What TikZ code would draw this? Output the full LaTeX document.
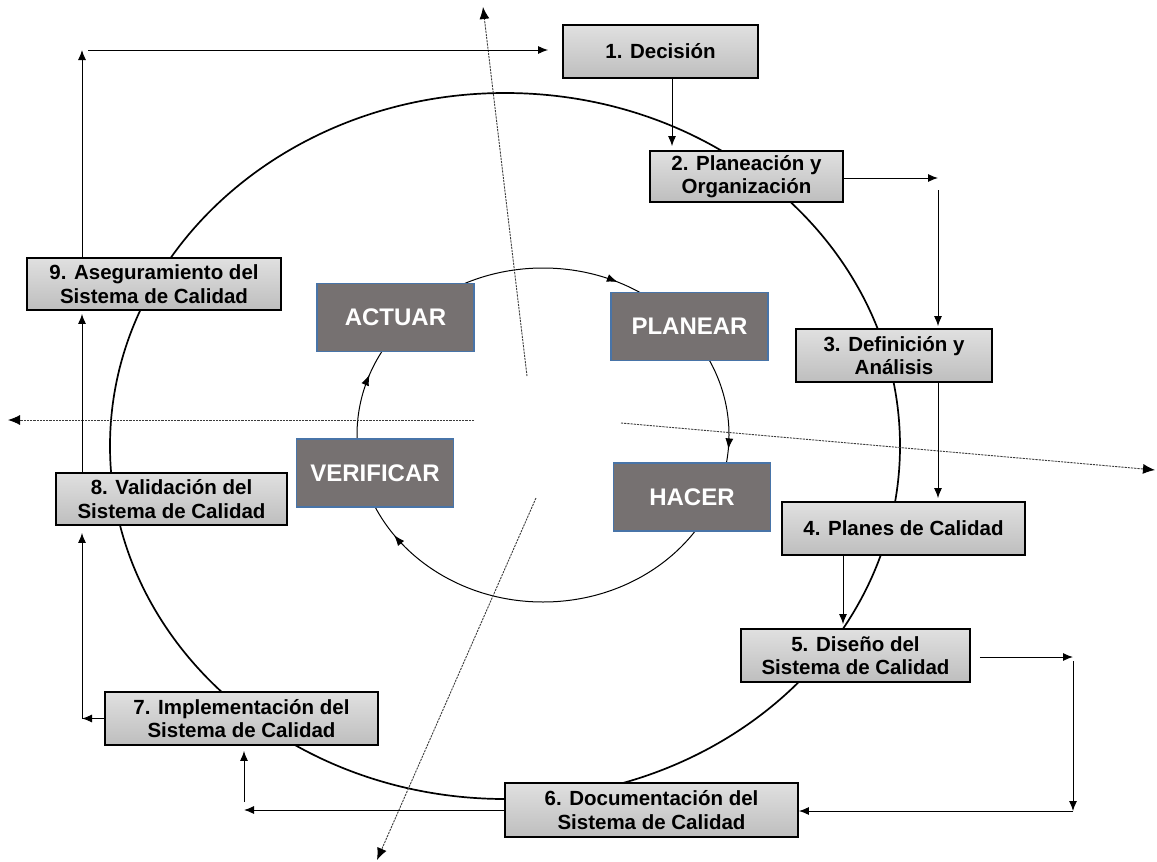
\documentclass[tikz,border=0pt]{standalone}
\usepackage{fontspec}
\setmainfont{Liberation Sans}
\usetikzlibrary{arrows.meta,decorations.markings}

\definecolor{boxtop}{RGB}{224,224,224}
\definecolor{boxbot}{RGB}{190,190,190}
\definecolor{pdcafill}{RGB}{118,113,113}
\definecolor{pdcaline}{RGB}{72,116,168}
\definecolor{axiscol}{RGB}{60,60,60}

\tikzset{
  stage/.style={draw=black, line width=1.8pt, top color=boxtop, bottom color=boxbot,
    inner sep=0pt, align=center, font=\bfseries\fontsize{20.5}{23.5}\selectfont},
  pdca/.style={draw=pdcaline, line width=1.6pt, fill=pdcafill, text=white,
    inner sep=0pt, minimum width=157pt, minimum height=68pt,
    font=\bfseries\fontsize{24}{27}\selectfont},
  conn/.style={draw=black, line width=1pt, -{Latex[length=10pt,width=8pt]}},
  axis/.style={draw=axiscol, line width=0.9pt, dash pattern=on 2.2pt off 1pt,
    -{Latex[length=12pt,width=10pt,black]}},
  ringtip/.style={-{Latex[length=11pt,width=8pt]}}
}

\begin{document}
\begin{tikzpicture}[x=1pt,y=-1pt]
\useasboundingbox (0,0) rectangle (1157,862);

% quality-system cycle and PDCA ring
\draw[line width=1.7pt] (505,446) ellipse [x radius=395, y radius=353];
\draw[line width=1pt,
  decoration={markings,
    mark=at position 0.013 with {\arrow{Latex[length=11pt,width=8pt]}},
    mark=at position 0.402 with {\arrow{Latex[length=11pt,width=8pt]}},
    mark=at position 0.556 with {\arrow{Latex[length=11pt,width=8pt]}},
    mark=at position 0.819 with {\arrow{Latex[length=11pt,width=8pt]}}},
  postaction={decorate}] (543,435) ellipse [x radius=186, y radius=167];

% dashed axes
\coordinate (axNs) at (527,376);  \coordinate (axNe) at (483,7);
\coordinate (axWs) at (474,420);  \coordinate (axWe) at (8,420);
\coordinate (axEs) at (621,423);  \coordinate (axEe) at (1155,470);
\coordinate (axSs) at (536,498);  \coordinate (axSe) at (377,860);
\draw[axis] (axNs) -- (axNe);
\draw[axis] (axWs) -- (axWe);
\draw[axis] (axEs) -- (axEe);
\draw[axis] (axSs) -- (axSe);

% PDCA boxes
\node[pdca] (act) at (395.5,317.5) {ACTUAR};
\node[pdca] (plan) at (689.5,326.5) {PLANEAR};
\node[pdca] (chk) at (375,473) {VERIFICAR};
\node[pdca] (do) at (692,497) {HACER};

% stages
\node[stage, minimum width=195pt, minimum height=53pt] (b1) at (660.5,51.5) {1. Decisión};
\node[stage, minimum width=193pt, minimum height=51pt] (b2) at (746.5,176.5) {2. Planeación y\\Organización};
\node[stage, minimum width=196pt, minimum height=53pt] (b3) at (894,355.5) {3. Definición y\\Análisis};
\node[stage, minimum width=243pt, minimum height=53pt] (b4) at (903.5,528.5) {4. Planes de Calidad};
\node[stage, minimum width=229pt, minimum height=53pt] (b5) at (855.5,655.5) {5. Diseño del\\Sistema de Calidad};
\node[stage, minimum width=293pt, minimum height=54pt] (b6) at (651.5,810) {6. Documentación del\\Sistema de Calidad};
\node[stage, minimum width=273pt, minimum height=53pt] (b7) at (241.5,718.5) {7. Implementación del\\Sistema de Calidad};
\node[stage, minimum width=231pt, minimum height=52pt] (b8) at (171.5,499) {8. Validación del\\Sistema de Calidad};
\node[stage, minimum width=254pt, minimum height=52pt] (b9) at (154,284) {9. Aseguramiento del\\Sistema de Calidad};

% connectors between stages
\coordinate (x12) at (672,0);
\draw[conn, shorten >=4pt] (b1.south -| x12) -- (b2.north -| x12);

\coordinate (k23) at (938,178);
\draw[conn] (b2.east |- k23) -- (k23);
\draw[conn, shorten >=2pt] ([yshift=-12pt]k23) -- (b3.north -| k23);
\draw[conn, shorten >=3pt] (b3.south -| k23) -- (b4.north -| k23);

\coordinate (x45) at (843,0);
\draw[conn, shorten >=4pt] (b4.south -| x45) -- (b5.north -| x45);

\coordinate (k56a) at (1073,657);
\coordinate (k56b) at (1073,811);
\draw[conn, shorten <=9pt] (b5.east |- k56a) -- (k56a);
\draw[conn] ([yshift=-4pt]k56a) -- (k56b);
\draw[conn] (k56b) -- (b6.east |- k56b);

\coordinate (k67) at (244,810);
\draw[conn] (b6.west |- k67) -- (k67);
\draw[conn, shorten >=5pt] ([yshift=8pt]k67) -- (b7.south -| k67);

\coordinate (k78) at (82,718.5);
\draw[conn] (b7.west) -- (k78);
\draw[conn, shorten >=7pt] (k78) -- (b8.south -| k78);
\draw[conn, shorten >=3pt] (b8.north -| k78) -- (b9.south -| k78);

\coordinate (k91) at (82,50);
\draw[conn] (b9.north -| k91) -- (k91);
\draw[conn, shorten <=6pt, shorten >=14pt] (k91) -- (b1.west |- k91);
\end{tikzpicture}
\end{document}
